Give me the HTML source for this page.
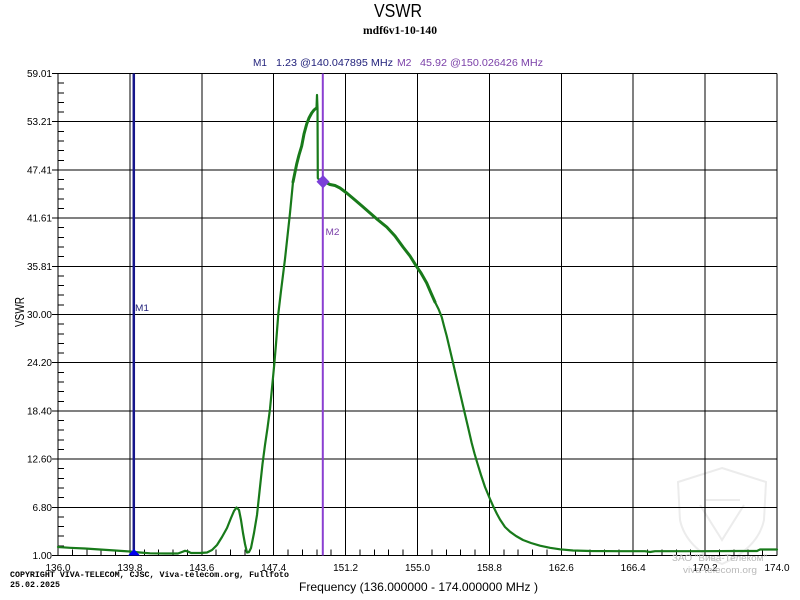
<!DOCTYPE html>
<html>
<head>
<meta charset="utf-8">
<style>
html,body{margin:0;padding:0;background:#fff;}
svg{display:block;}
</style>
</head>
<body>
<svg width="800" height="600" viewBox="0 0 800 600" xmlns="http://www.w3.org/2000/svg">
<rect x="0" y="0" width="800" height="600" fill="#ffffff"/>

<!-- watermark shield (faint) -->
<g fill="none" stroke="#ececec" stroke-width="2">
  <path d="M722 468 L766 482 L764 520 Q758 548 722 564 Q686 548 680 520 L678 482 Z"/>
  <path d="M700 505 L722 540 L744 505"/>
  <path d="M706 500 L740 500"/>
</g>

<!-- titles -->
<text x="398" y="17" font-family="Liberation Sans, sans-serif" font-size="18" text-anchor="middle" textLength="48" lengthAdjust="spacingAndGlyphs" fill="#000">VSWR</text>
<text x="400" y="34" font-family="Liberation Serif, serif" font-weight="bold" font-size="12" text-anchor="middle" textLength="74" lengthAdjust="spacingAndGlyphs" fill="#000">mdf6v1-10-140</text>

<!-- marker readout -->
<g font-family="Liberation Sans, sans-serif" font-size="10">
  <text x="253" y="66" fill="#1f1f7a" textLength="14" lengthAdjust="spacingAndGlyphs">M1</text>
  <text x="276" y="66" fill="#1f1f7a" textLength="117" lengthAdjust="spacingAndGlyphs">1.23 @140.047895 MHz</text>
  <text x="397" y="66" fill="#7a3fa8" textLength="14.5" lengthAdjust="spacingAndGlyphs">M2</text>
  <text x="420" y="66" fill="#7a3fa8" textLength="123" lengthAdjust="spacingAndGlyphs">45.92 @150.026426 MHz</text>
</g>

<!-- grid -->
<g stroke="#000" stroke-width="1" shape-rendering="crispEdges">
  <line x1="58" y1="73.5" x2="777" y2="73.5"/>
  <line x1="58" y1="121.7" x2="777" y2="121.7"/>
  <line x1="58" y1="169.9" x2="777" y2="169.9"/>
  <line x1="58" y1="218.1" x2="777" y2="218.1"/>
  <line x1="58" y1="266.3" x2="777" y2="266.3"/>
  <line x1="58" y1="314.5" x2="777" y2="314.5"/>
  <line x1="58" y1="362.7" x2="777" y2="362.7"/>
  <line x1="58" y1="410.9" x2="777" y2="410.9"/>
  <line x1="58" y1="459.1" x2="777" y2="459.1"/>
  <line x1="58" y1="507.3" x2="777" y2="507.3"/>
  <line x1="58" y1="555.5" x2="777" y2="555.5"/>

  <line x1="58" y1="73.5" x2="58" y2="555.5"/>
  <line x1="129.9" y1="73.5" x2="129.9" y2="555.5"/>
  <line x1="201.8" y1="73.5" x2="201.8" y2="555.5"/>
  <line x1="273.7" y1="73.5" x2="273.7" y2="555.5"/>
  <line x1="345.6" y1="73.5" x2="345.6" y2="555.5"/>
  <line x1="417.5" y1="73.5" x2="417.5" y2="555.5"/>
  <line x1="489.4" y1="73.5" x2="489.4" y2="555.5"/>
  <line x1="561.3" y1="73.5" x2="561.3" y2="555.5"/>
  <line x1="633.2" y1="73.5" x2="633.2" y2="555.5"/>
  <line x1="705.1" y1="73.5" x2="705.1" y2="555.5"/>
  <line x1="777" y1="73.5" x2="777" y2="555.5"/>

  <!-- y major ticks -->
  <path d="M52 73.5H58M52 121.7H58M52 169.9H58M52 218.1H58M52 266.3H58M52 314.5H58M52 362.7H58M52 410.9H58M52 459.1H58M52 507.3H58M52 555.5H58"/>
  <!-- y minor ticks -->
  <path d="M58 83.1H64M58 92.8H64M58 102.4H64M58 112.1H64
           M58 131.3H64M58 141H64M58 150.6H64M58 160.3H64
           M58 179.5H64M58 189.2H64M58 198.8H64M58 208.5H64
           M58 227.7H64M58 237.4H64M58 247H64M58 256.7H64
           M58 275.9H64M58 285.6H64M58 295.2H64M58 304.9H64
           M58 324.1H64M58 333.8H64M58 343.4H64M58 353.1H64
           M58 372.3H64M58 382H64M58 391.6H64M58 401.3H64
           M58 420.5H64M58 430.2H64M58 439.8H64M58 449.5H64
           M58 468.7H64M58 478.4H64M58 488H64M58 497.7H64
           M58 516.9H64M58 526.6H64M58 536.2H64M58 545.9H64"/>
  <!-- x minor ticks -->
  <path d="M72.4 549.5V555.5M86.8 549.5V555.5M101.1 549.5V555.5M115.5 549.5V555.5
           M144.3 549.5V555.5M158.7 549.5V555.5M173 549.5V555.5M187.4 549.5V555.5
           M216.2 549.5V555.5M230.6 549.5V555.5M244.9 549.5V555.5M259.3 549.5V555.5
           M288.1 549.5V555.5M302.5 549.5V555.5M316.8 549.5V555.5M331.2 549.5V555.5
           M360 549.5V555.5M374.4 549.5V555.5M388.7 549.5V555.5M403.1 549.5V555.5
           M431.9 549.5V555.5M446.3 549.5V555.5M460.6 549.5V555.5M475 549.5V555.5
           M503.8 549.5V555.5M518.2 549.5V555.5M532.5 549.5V555.5M546.9 549.5V555.5
           M575.7 549.5V555.5M590.1 549.5V555.5M604.4 549.5V555.5M618.8 549.5V555.5
           M647.6 549.5V555.5M662 549.5V555.5M676.3 549.5V555.5M690.7 549.5V555.5
           M719.5 549.5V555.5M733.9 549.5V555.5M748.2 549.5V555.5M762.6 549.5V555.5"/>
</g>

<!-- y labels -->
<g font-family="Liberation Sans, sans-serif" font-size="10" fill="#000" text-anchor="end">
  <text x="52" y="77">59.01</text>
  <text x="52" y="125.2">53.21</text>
  <text x="52" y="173.4">47.41</text>
  <text x="52" y="221.6">41.61</text>
  <text x="52" y="269.8">35.81</text>
  <text x="52" y="318">30.00</text>
  <text x="52" y="366.2">24.20</text>
  <text x="52" y="414.4">18.40</text>
  <text x="52" y="462.6">12.60</text>
  <text x="52" y="510.8">6.80</text>
  <text x="52" y="559">1.00</text>
</g>
<text transform="translate(24,312) rotate(-90)" font-family="Liberation Sans, sans-serif" font-size="13" text-anchor="middle" textLength="30" lengthAdjust="spacingAndGlyphs" fill="#000">VSWR</text>

<!-- x labels -->
<g font-family="Liberation Sans, sans-serif" font-size="10" fill="#000" text-anchor="middle">
  <text x="58" y="571">136.0</text>
  <text x="129.9" y="571">139.8</text>
  <text x="201.8" y="571">143.6</text>
  <text x="273.7" y="571">147.4</text>
  <text x="345.6" y="571">151.2</text>
  <text x="417.5" y="571">155.0</text>
  <text x="489.4" y="571">158.8</text>
  <text x="561.3" y="571">162.6</text>
  <text x="633.2" y="571">166.4</text>
  <text x="705.1" y="571">170.2</text>
  <text x="777" y="571">174.0</text>
</g>

<!-- watermark text -->
<g font-family="Liberation Sans, sans-serif" font-size="9" fill="#b9b9b9">
  <text x="672" y="561" textLength="95" lengthAdjust="spacingAndGlyphs">ЗАО "Вива-Телеком"</text>
  <text x="683" y="573" textLength="74" lengthAdjust="spacingAndGlyphs">viva-telecom.org</text>
</g>

<!-- x axis title -->
<text x="299" y="591" font-family="Liberation Sans, sans-serif" font-size="12" textLength="239" lengthAdjust="spacingAndGlyphs" fill="#000">Frequency (136.000000 - 174.000000 MHz )</text>

<!-- copyright -->
<g font-family="Liberation Mono, monospace" font-weight="bold" font-size="8" fill="#000">
  <text x="10" y="577" textLength="279" lengthAdjust="spacingAndGlyphs">COPYRIGHT VIVA-TELECOM, CJSC, Viva-telecom.org, Fullfoto</text>
  <text x="10" y="587" textLength="50" lengthAdjust="spacingAndGlyphs">25.02.2025</text>
</g>

<!-- M1 marker line -->
<line x1="133.8" y1="73.5" x2="133.8" y2="555.5" stroke="#15158a" stroke-width="2.5"/>
<!-- M2 marker line -->
<line x1="322.8" y1="73.5" x2="322.8" y2="555.5" stroke="#8a3fd1" stroke-width="2"/>

<!-- curve -->
<polyline fill="none" stroke="#187a1a" stroke-width="2.2" stroke-linejoin="round" stroke-linecap="round"
points="58,547 70,547.8 85,548.5 100,549.5 115,550.5 130,551.5 140,552.5 150,553.3 165,553.5 178,553.5 182,552 185,550.8 188,551.5 191,553 200,553 207,552.5 212,550 217,545 222,537 227,528 231,518 234,511 236.5,507.5 239,510 241,520 243,533 245,544 247,552.5 249,552 251,548 254,533 257,515 260,487 262.5,464 265,445 267.5,428 270,409 272,388 274.3,364 276,344 278.3,314 281,291 283,275 285,259 287.5,236 290,213 293,182 296.7,164 299,155 301.7,146 304,134 306.7,124 309,118 311.7,113 314,110 316.5,108 317,95 317.5,108 317.8,178 320,181 323,181.5 327,183 330,184.5 335,185.5 340,188 346.7,193 355,200 362,206 370,213 378,220 386.7,227 395,236 403,247 410,256 416.7,266.7 421,273 426.7,283 431,293 435,302 438.5,309 441.7,317 444,326 446.7,336 450,350 453.3,364 457,380 460.5,395 464,410 468,427 471.7,443 474.5,453.5 477.3,463 481,475 485,487 490,499 493.3,506.5 497,514 500,519.5 505,527 510,531.7 516,536 523,540 531,543 540,545.7 550,547.8 560,549.3 573,550.5 590,551 620,551.2 645,551.2 650,552 655,551.2 700,551.2 740,551 757,551 760,549.5 777,549.5"/>
<!-- noisy thicker segments -->
<polyline fill="none" stroke="#187a1a" stroke-width="3" stroke-linejoin="round" stroke-linecap="round"
points="293,182 296.7,164 299,155 301.7,146 304,134 306.7,124 309,118 311.7,113 314,110 316.5,108"/>
<polyline fill="none" stroke="#187a1a" stroke-width="3" stroke-linejoin="round" stroke-linecap="round"
points="323,181.5 327,183 330,184.5 335,185.5 340,188 346.7,193 355,200 362,206 370,213 378,220 386.7,227 395,236 403,247 410,256 416.7,266.7 421,273 426.7,283 431,293 435,302"/>

<!-- M1 triangle -->
<polygon points="128,555.5 140,555.5 134,549" fill="#0000ee"/>
<!-- M2 diamond -->
<polygon points="323,175 329.5,181.7 323,188.4 316.5,181.7" fill="#7b3fd8"/>

<!-- marker labels -->
<text x="135" y="311" font-family="Liberation Sans, sans-serif" font-size="9" fill="#1f1f7a" textLength="14" lengthAdjust="spacingAndGlyphs">M1</text>
<text x="325.5" y="235" font-family="Liberation Sans, sans-serif" font-size="9" fill="#7a3fa8" textLength="14" lengthAdjust="spacingAndGlyphs">M2</text>
</svg>
</body>
</html>
